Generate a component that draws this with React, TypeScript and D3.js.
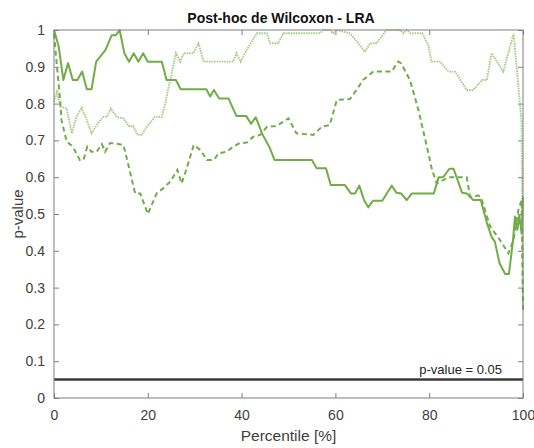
import * as d3 from "d3";
import { useEffect, useRef } from "react";

// percentile [%] , p-value
const solidSeries: [number, number][] = [
  [0, 1.0], [1, 0.955], [2, 0.864], [3, 0.91], [4, 0.864], [5, 0.864], [6, 0.887], [7, 0.839],
  [8, 0.839], [9, 0.914], [11, 0.946], [12.3, 0.986], [13.2, 0.986], [14, 1.0], [15, 0.937],
  [16, 0.914], [17, 0.937], [18, 0.914], [19, 0.937], [20, 0.914], [23, 0.914], [24, 0.864],
  [26, 0.864], [27, 0.839], [32.5, 0.839], [33.3, 0.819], [34.1, 0.837], [35.2, 0.814],
  [37.2, 0.814], [38.9, 0.766], [41, 0.766], [42, 0.745], [43, 0.763], [44.5, 0.715], [46, 0.68],
  [47, 0.647], [55, 0.647], [56, 0.624], [58, 0.624], [59, 0.579], [62, 0.579], [63.3, 0.556],
  [64.2, 0.556], [65.1, 0.577], [66.1, 0.538], [67, 0.518], [68, 0.536], [70, 0.536], [72, 0.577],
  [73, 0.558], [74, 0.556], [75.2, 0.538], [76.3, 0.556], [81, 0.556], [82, 0.6], [83, 0.6],
  [84.3, 0.623], [85.2, 0.623], [87, 0.558], [88, 0.556], [89.4, 0.538], [91, 0.538],
  [92.3, 0.476], [93.3, 0.438], [94, 0.425], [95, 0.366], [96.2, 0.337], [97, 0.337],
  [97.8, 0.42], [98.3, 0.493], [98.8, 0.457], [99.2, 0.497], [99.7, 0.447], [100, 0.547],
];

const dashedSeries: [number, number][] = [
  [0, 0.99], [0.9, 0.864], [1.3, 0.81], [1.6, 0.755], [2.7, 0.697], [4, 0.683], [5.5, 0.647],
  [6.3, 0.647], [7.1, 0.683], [8, 0.669], [9.1, 0.669], [10.2, 0.69], [10.9, 0.669], [11.9, 0.692],
  [13, 0.692], [14.8, 0.6875], [15.6, 0.647], [17.3, 0.556], [18.4, 0.556], [20, 0.5],
  [21.9, 0.556], [23.3, 0.57], [24.8, 0.588], [26.3, 0.62], [27.2, 0.583], [28.4, 0.628],
  [29.8, 0.6875], [31.2, 0.674], [32.6, 0.647], [34.1, 0.647], [35.1, 0.665], [36.8, 0.669],
  [38.2, 0.683], [39.5, 0.692], [41.1, 0.694], [42.5, 0.71], [44, 0.715], [45.4, 0.737],
  [47.5, 0.739], [50, 0.76], [51.7, 0.719], [55.3, 0.715], [57.1, 0.737], [58.8, 0.742],
  [60.3, 0.81], [63.1, 0.8125], [64.5, 0.837], [65.9, 0.864], [68.1, 0.887], [72, 0.887],
  [73.4, 0.914], [74, 0.91], [75.9, 0.864], [77.7, 0.783], [79.5, 0.683], [80.6, 0.62],
  [81.6, 0.583], [83, 0.592], [84.1, 0.6], [88, 0.6], [88.7, 0.547], [90.5, 0.55], [91, 0.547],
  [93, 0.466], [95.1, 0.429], [96.9, 0.393], [98, 0.43], [99, 0.51], [99.7, 0.538], [100, 0.24],
];

const dottedSeries: [number, number][] = [
  [0, 0.805], [0.6, 0.832], [1.4, 0.792], [2.7, 0.787], [3.8, 0.719], [4.8, 0.764], [5.9, 0.789],
  [7, 0.755], [8, 0.719], [9.1, 0.742], [10.5, 0.764], [11.3, 0.764], [12.1, 0.787],
  [13.4, 0.763], [14.8, 0.76], [15.9, 0.739], [16.9, 0.739], [17.8, 0.715], [18.7, 0.715],
  [19.8, 0.737], [21.5, 0.764], [23, 0.764], [23.7, 0.8], [24.7, 0.86], [26, 0.937],
  [26.9, 0.914], [27.7, 0.937], [29.7, 0.937], [30.8, 0.964], [31.9, 0.914], [38.2, 0.914],
  [38.9, 0.937], [39.8, 0.914], [41.1, 0.946], [43.2, 0.991], [45.4, 0.991], [46.1, 0.964],
  [47.8, 0.964], [48.9, 0.991], [56.7, 0.991], [57.4, 1.0], [58.8, 1.0], [59.5, 0.991],
  [60.2, 1.0], [63.1, 0.991], [64.9, 0.964], [66.3, 0.941], [67.4, 0.964], [68.8, 0.964],
  [70.9, 1.0], [73.8, 1.0], [74.5, 0.991], [75.2, 1.0], [76, 0.991], [78.5, 0.991],
  [79.8, 0.96], [80.5, 0.914], [82.3, 0.914], [84.1, 0.887], [85.5, 0.887], [88, 0.837],
  [89.4, 0.837], [91.3, 0.864], [92.3, 0.864], [93.3, 0.937], [94.7, 0.909], [95.8, 0.887],
  [98, 0.99], [99.7, 0.75], [100, 0.24],
];

const xTicks = [0, 20, 40, 60, 80, 100];
const yTicks = [0, 0.1, 0.2, 0.3, 0.4, 0.5, 0.6, 0.7, 0.8, 0.9, 1];
const threshold = 0.05;

export default function App() {
  const ref = useRef<SVGSVGElement>(null);

  useEffect(() => {
    const width = 534;
    const height = 448;
    const left = 54, right = 523, top = 30, bottom = 398;
    const font = "'Liberation Sans', Arial, sans-serif";
    const green = "#70ad47";
    const lightGreen = "#a5cf88";

    const svg = d3.select(ref.current);
    svg.selectAll("*").remove();
    svg.attr("width", width).attr("height", height);

    svg.append("rect").attr("width", width).attr("height", height).attr("fill", "#fff");

    const x = d3.scaleLinear().domain([0, 100]).range([left, right]);
    const y = d3.scaleLinear().domain([0, 1]).range([bottom, top]);
    const fmt = (d: any) => String(+(+d).toFixed(1));

    // axes (ticks pointing inward, mirrored on top/right)
    const styleAxis = (g: any) => {
      g.select(".domain").remove();
      g.selectAll(".tick line").attr("stroke", "#7f7f7f");
      g.selectAll(".tick text")
        .attr("fill", "#404040")
        .attr("font-size", 14)
        .attr("font-family", font);
    };

    svg.append("g").attr("transform", `translate(0,${bottom})`)
      .call(d3.axisBottom(x).tickValues(xTicks).tickSizeInner(-5).tickSizeOuter(0).tickPadding(12).tickFormat(fmt))
      .call(styleAxis);
    svg.append("g").attr("transform", `translate(0,${top})`)
      .call(d3.axisTop(x).tickValues(xTicks).tickSizeInner(-5).tickSizeOuter(0).tickFormat(() => ""))
      .call(styleAxis);
    svg.append("g").attr("transform", `translate(${left},0)`)
      .call(d3.axisLeft(y).tickValues(yTicks).tickSizeInner(-5).tickSizeOuter(0).tickPadding(9).tickFormat(fmt))
      .call(styleAxis);
    svg.append("g").attr("transform", `translate(${right},0)`)
      .call(d3.axisRight(y).tickValues(yTicks).tickSizeInner(-5).tickSizeOuter(0).tickFormat(() => ""))
      .call(styleAxis);

    const line = d3.line<[number, number]>().x(d => x(d[0])).y(d => y(d[1]));

    const plot = svg.append("g");

    plot.append("path").datum(dottedSeries)
      .attr("d", line).attr("fill", "none")
      .attr("stroke", lightGreen).attr("stroke-width", 1.9)
      .attr("stroke-dasharray", "1.6,0.9");

    plot.append("path").datum(dashedSeries)
      .attr("d", line).attr("fill", "none")
      .attr("stroke", green).attr("stroke-width", 2)
      .attr("stroke-dasharray", "5,3.5");

    plot.append("path").datum(solidSeries)
      .attr("d", line).attr("fill", "none")
      .attr("stroke", green).attr("stroke-width", 2)
      .attr("stroke-linejoin", "round");

    // p-value threshold
    svg.append("line")
      .attr("x1", x(0)).attr("x2", x(100))
      .attr("y1", y(threshold)).attr("y2", y(threshold))
      .attr("stroke", "#3a3a3a").attr("stroke-width", 2.5);

    svg.append("text")
      .attr("x", 502).attr("y", y(threshold) - 6)
      .attr("text-anchor", "end")
      .attr("font-family", font).attr("font-size", 13).attr("fill", "#262626")
      .text(`p-value = ${threshold}`);

    // frame
    svg.append("rect")
      .attr("x", left).attr("y", top)
      .attr("width", right - left).attr("height", bottom - top)
      .attr("fill", "none").attr("stroke", "#7f7f7f").attr("stroke-width", 1);

    // titles
    svg.append("text")
      .attr("x", 281).attr("y", 23)
      .attr("text-anchor", "middle")
      .attr("font-family", font).attr("font-size", 14).attr("font-weight", "bold")
      .attr("fill", "#111")
      .text("Post-hoc de Wilcoxon - LRA");

    svg.append("text")
      .attr("x", (left + right) / 2).attr("y", 441)
      .attr("text-anchor", "middle")
      .attr("font-family", font).attr("font-size", 15.5).attr("fill", "#404040")
      .text("Percentile [%]");

    svg.append("text")
      .attr("transform", `translate(23,214) rotate(-90)`)
      .attr("text-anchor", "middle")
      .attr("font-family", font).attr("font-size", 15).attr("fill", "#404040")
      .text("p-value");
  }, []);

  return (
    <div style={{ position: "absolute", left: 0, top: 0 }}>
      <svg ref={ref} style={{ display: "block" }} />
    </div>
  );
}
